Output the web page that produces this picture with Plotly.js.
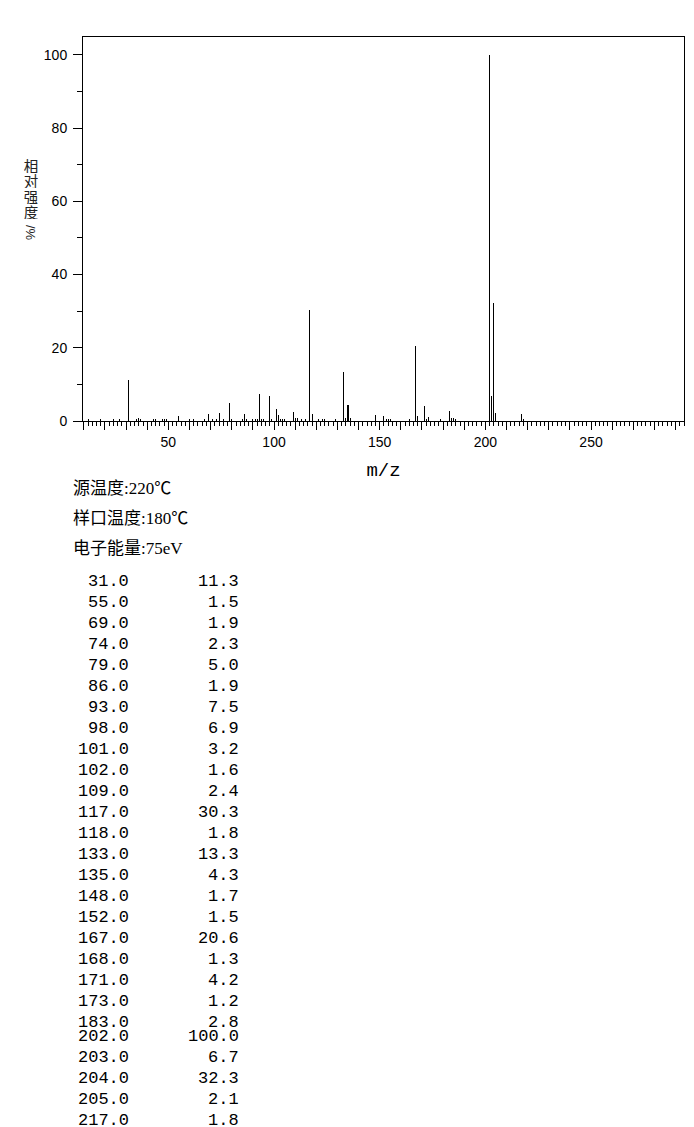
<!DOCTYPE html>
<html>
<head>
<meta charset="utf-8">
<script src="https://cdn.plot.ly/plotly-3.0.1.min.js"></script>
<style>
html,body{margin:0;padding:0;background:#fff;}
#chart{width:694px;height:1127px;}
</style>
</head>
<body>
<div id="chart"></div>
<script>
// ---- data ----
const peakMz = [12,18,24,27,31,35,36,37,43,44,47,48,49,55,60,62,67,69,71,73,74,76,79,80,85,86,87,90,91,92,93,94,95,98,99,101,102,103,104,105,109,110,111,113,115,117,118,121,123,124,129,133,134,135,136,148,152,153,154,155,164,167,168,171,172,173,179,183,184,185,186,202,203,204,205,217,218];
const peakInt = [0.5,0.6,0.3,0.4,11.3,0.5,0.8,0.4,0.4,0.4,0.4,0.4,0.4,1.5,0.4,0.4,0.4,1.9,0.5,0.5,2.3,0.4,5.0,0.4,0.6,1.9,0.4,0.5,0.4,0.5,7.5,0.5,0.4,6.9,0.5,3.2,1.6,0.6,0.4,0.4,2.4,0.7,0.7,0.4,0.5,30.3,1.8,0.4,0.4,0.4,0.5,13.3,0.7,4.3,0.7,1.7,1.5,0.5,0.6,0.4,0.4,20.6,1.3,4.2,0.5,1.2,0.4,2.8,0.7,0.9,0.4,100.0,6.7,32.3,2.1,1.8,0.4];

const tableMz  = ['31.0','55.0','69.0','74.0','79.0','86.0','93.0','98.0','101.0','102.0','109.0','117.0','118.0','133.0','135.0','148.0','152.0','167.0','168.0','171.0','173.0','183.0','202.0','203.0','204.0','205.0','217.0'];
const tableInt = ['11.3','1.5','1.9','2.3','5.0','1.9','7.5','6.9','3.2','1.6','2.4','30.3','1.8','13.3','4.3','1.7','1.5','20.6','1.3','4.2','1.2','2.8','100.0','6.7','32.3','2.1','1.8'];

const infoLines = ['源温度:220℃','样口温度:180℃','电子能量:75eV'];
const xTitle = 'm/z';
const yTitleCJK = '相对强度';
const yTitleUnit = '/%';
const xTickLabels = ['50','100','150','200','250'];
const yTickLabels = ['0','20','40','60','80','100'];

// ---- layout geometry ----
const W = 694, H = 1127;
const M = {l:83, r:10, t:37, b:706};
const PW = W - M.l - M.r, PH = H - M.t - M.b;
const px2x = p => (p - M.l) / PW;
const py2y = p => (H - M.b - p) / PH;

// x ticks every 10, labels only at multiples of 50
const xTickVals = [], xTickText = [];
for (let v = 10; v <= 290; v += 10) {
  xTickVals.push(v);
  const i = xTickLabels.indexOf(String(v));
  xTickText.push(i >= 0 ? xTickLabels[i] : '');
}

const annotations = [];
// y-axis title: stacked upright CJK chars, then rotated unit
Array.from(yTitleCJK).forEach((ch, i) => {
  annotations.push({xref:'paper', yref:'paper', x:px2x(31), y:py2y(165 + i*15.5),
    text:ch, showarrow:false, xanchor:'center', yanchor:'middle', height:15, width:16,
    font:{family:'Noto Sans CJK SC', size:14.5, color:'#222'}});
});
annotations.push({xref:'paper', yref:'paper', x:px2x(31), y:py2y(233), text:yTitleUnit,
  showarrow:false, textangle:90, xanchor:'center', yanchor:'middle',
  font:{family:'Liberation Sans', size:13, color:'#222'}});

// info lines
const infoY = [488, 518, 548];
infoLines.forEach((t, i) => {
  annotations.push({xref:'paper', yref:'paper', x:px2x(71), y:py2y(infoY[i]), text:t,
    showarrow:false, xanchor:'left', yanchor:'middle',
    font:{family:'Liberation Serif, Noto Sans CJK SC', size:17, color:'#000'}});
});

// table
function rowY(i) {
  if (i <= 21) return 580.7 + 21*i;
  if (i === 22) return 1036;
  return 1057 + 21*(i-23);
}
tableMz.forEach((m, i) => {
  const y = py2y(rowY(i));
  annotations.push({xref:'paper', yref:'paper', x:px2x(131), y:y, text:m, showarrow:false,
    xanchor:'right', yanchor:'middle', height:14, font:{family:'Liberation Mono', size:17, color:'#000'}});
  annotations.push({xref:'paper', yref:'paper', x:px2x(241), y:y, text:tableInt[i], showarrow:false,
    xanchor:'right', yanchor:'middle', height:14, font:{family:'Liberation Mono', size:17, color:'#000'}});
});

const trace = {
  type:'bar', x:peakMz, y:peakInt, width:0.01,
  marker:{color:'#000', line:{width:0}},
  hoverinfo:'x+y'
};

const layout = {
  width:W, height:H,
  margin:M,
  paper_bgcolor:'#fff', plot_bgcolor:'#fff',
  showlegend:false,
  bargap:0,
  xaxis:{
    range:[9.6, 294], showgrid:false, zeroline:false,
    showline:true, linecolor:'#000', linewidth:1, mirror:true,
    ticks:'outside', ticklen:8, tickwidth:1, tickcolor:'#000',
    tickmode:'array', tickvals:xTickVals, ticktext:xTickText,
    minor:{dtick:2, tick0:0, ticks:'outside', ticklen:4, tickwidth:1, tickcolor:'#000', showgrid:false},
    tickfont:{family:'Liberation Sans', size:14, color:'#000'},
    title:{text:xTitle, font:{family:'Liberation Mono', size:19, color:'#000'}, standoff:13},
    automargin:false, fixedrange:true
  },
  yaxis:{
    range:[0, 104.85], showgrid:false, zeroline:false,
    showline:true, linecolor:'#000', linewidth:1, mirror:true,
    ticks:'outside', ticklen:9, tickwidth:1, tickcolor:'#000',
    tickmode:'array', tickvals:yTickLabels.map(Number), ticktext:yTickLabels,
    minor:{dtick:10, tick0:0, ticks:'outside', ticklen:5, tickwidth:1, tickcolor:'#000', showgrid:false},
    tickfont:{family:'Liberation Sans', size:14, color:'#000'},
    ticklabelstandoff:3,
    automargin:false, fixedrange:true
  },
  annotations:annotations
};

Plotly.newPlot('chart', [trace], layout, {displayModeBar:false, responsive:false});
</script>
</body>
</html>
